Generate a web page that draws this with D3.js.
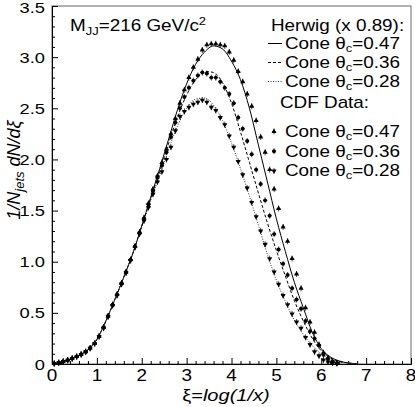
<!DOCTYPE html>
<html>
<head>
<meta charset="utf-8">
<script src="https://cdn.jsdelivr.net/npm/d3@7"></script>
<style>
  body { margin: 0; background: #fff; }
  text { font-family: "Liberation Sans", Arial, sans-serif; fill: #000; }
</style>
</head>
<body>
<svg id="chart" width="415" height="407"></svg>
<script>
// Herwig curves: knots every 0.2 in xi
const curveXi = [0.0, 0.2, 0.4, 0.6, 0.8, 1.0, 1.2, 1.4, 1.6, 1.8, 2.0, 2.2, 2.4, 2.6, 2.8,
  3.0, 3.2, 3.4, 3.6, 3.8, 4.0, 4.2, 4.4, 4.6, 4.8, 5.0, 5.2, 5.4, 5.6, 5.8, 6.0, 6.2, 6.4, 6.6, 6.8];
const herwig47 = [0.0, 0.015, 0.045, 0.085, 0.14, 0.24, 0.42, 0.63, 0.85, 1.08, 1.35, 1.63, 1.91, 2.20, 2.49,
  2.74, 2.93, 3.05, 3.11, 3.08, 2.96, 2.78, 2.50, 2.14, 1.78, 1.42, 1.10, 0.80, 0.55, 0.31, 0.15, 0.07, 0.03, 0.01, 0.0];
const herwig36 = [0.0, 0.015, 0.045, 0.085, 0.14, 0.24, 0.42, 0.63, 0.85, 1.08, 1.35, 1.62, 1.88, 2.16, 2.42,
  2.63, 2.78, 2.86, 2.85, 2.75, 2.55, 2.27, 1.97, 1.67, 1.38, 1.11, 0.86, 0.62, 0.42, 0.25, 0.13, 0.06, 0.025, 0.01, 0.0];
const herwig28 = [0.0, 0.015, 0.045, 0.085, 0.14, 0.24, 0.42, 0.63, 0.85, 1.08, 1.34, 1.60, 1.84, 2.10, 2.33,
  2.50, 2.59, 2.60, 2.53, 2.38, 2.16, 1.91, 1.64, 1.36, 1.07, 0.82, 0.61, 0.43, 0.29, 0.18, 0.10, 0.05, 0.02, 0.01, 0.0];

// CDF data: bin centres
const dataXi = [0.05, 0.15, 0.25, 0.35, 0.45, 0.55, 0.65, 0.75, 0.85, 0.95,
  1.05, 1.15, 1.25, 1.35, 1.45, 1.55, 1.65, 1.75, 1.85, 1.95,
  2.05, 2.15, 2.25, 2.35, 2.45, 2.55, 2.65, 2.75, 2.85, 2.95,
  3.05, 3.15, 3.25, 3.35, 3.45, 3.55, 3.65, 3.75, 3.85, 3.95,
  4.05, 4.15, 4.25, 4.35, 4.45, 4.55, 4.65, 4.75, 4.85, 4.95,
  5.05, 5.15, 5.25, 5.35, 5.45, 5.55, 5.65, 5.75, 5.85, 5.95,
  6.05, 6.15, 6.25, 6.35];
const cdf47 = [0.005, 0.012, 0.025, 0.038, 0.055, 0.072, 0.095, 0.12, 0.155, 0.20,
  0.27, 0.36, 0.47, 0.58, 0.68, 0.79, 0.90, 1.02, 1.15, 1.29,
  1.43, 1.57, 1.71, 1.84, 1.97, 2.10, 2.25, 2.40, 2.55, 2.68,
  2.80, 2.90, 2.98, 3.07, 3.12, 3.13, 3.13, 3.12, 3.11, 3.05,
  2.97, 2.86, 2.76, 2.64, 2.52, 2.38, 2.22, 2.07, 1.90, 1.71,
  1.52, 1.34, 1.20, 1.03, 0.88, 0.74, 0.55, 0.41, 0.31, 0.19,
  0.11, 0.06, 0.03, 0.01];
const cdf36 = [0.005, 0.013, 0.024, 0.037, 0.054, 0.073, 0.094, 0.12, 0.156, 0.20,
  0.27, 0.36, 0.47, 0.58, 0.68, 0.79, 0.90, 1.02, 1.15, 1.28,
  1.42, 1.56, 1.69, 1.82, 1.94, 2.07, 2.22, 2.36, 2.50, 2.61,
  2.70, 2.77, 2.82, 2.85, 2.84, 2.80, 2.80, 2.76, 2.70, 2.64,
  2.55, 2.41, 2.30, 2.18, 2.05, 1.90, 1.76, 1.60, 1.45, 1.27,
  1.12, 0.98, 0.87, 0.74, 0.63, 0.54, 0.42, 0.32, 0.25, 0.18,
  0.09, 0.05, 0.02, 0.01];
const cdf28 = [0.005, 0.012, 0.024, 0.037, 0.054, 0.072, 0.093, 0.12, 0.154, 0.20,
  0.27, 0.35, 0.46, 0.57, 0.67, 0.78, 0.89, 1.01, 1.14, 1.27,
  1.40, 1.53, 1.66, 1.78, 1.88, 2.00, 2.12, 2.28, 2.42, 2.47,
  2.51, 2.54, 2.56, 2.58, 2.56, 2.51, 2.48, 2.41, 2.34, 2.23,
  2.12, 1.98, 1.85, 1.72, 1.58, 1.44, 1.30, 1.17, 1.03, 0.90,
  0.78, 0.67, 0.58, 0.49, 0.41, 0.35, 0.26, 0.19, 0.12, 0.08,
  0.04, 0.02, 0.01, 0.005];

const coneLabels = ['0.47', '0.36', '0.28'];
const xTicks = [0, 1, 2, 3, 4, 5, 6, 7, 8];
const yTicks = [0, 0.5, 1.0, 1.5, 2.0, 2.5, 3.0, 3.5];
const yTickLabels = ['0', '0.5', '1.0', '1.5', '2.0', '2.5', '3.0', '3.5'];

const width = 415, height = 407;
const margin = {top: 6, right: 4, bottom: 43, left: 52};
const SX = 1.18;  // text in the reference is stretched horizontally

const svg = d3.select('#chart');
const x = d3.scaleLinear().domain([0, 8]).range([margin.left, width - margin.right]);
const y = d3.scaleLinear().domain([0, 3.5]).range([height - margin.bottom, margin.top]);

// Stretched text helper.
function stext(parent, px, py, size, anchor) {
  return parent.append('text')
      .attr('transform', `translate(${px},${py}) scale(${SX},1)`)
      .attr('font-size', size)
      .attr('text-anchor', anchor || 'start');
}

// Frame
svg.append('rect')
    .attr('x', x(0)).attr('y', y(3.5))
    .attr('width', x(8) - x(0)).attr('height', y(0) - y(3.5))
    .attr('fill', 'none').attr('stroke', '#666').attr('stroke-width', 1);

// Axes with inward ticks
const xAxis = svg.append('g').attr('transform', `translate(0,${y(0)})`);
xAxis.call(d3.axisBottom(x).tickValues(d3.range(0, 8.001, 0.2)).tickSize(-3).tickFormat(''));
xAxis.call(g => g.selectAll('.tick line').filter(d => Math.abs(d - Math.round(d)) < 1e-6).attr('y2', -6));
xAxis.select('.domain').attr('stroke', '#000');
xAxis.selectAll('.tick line').attr('stroke', '#000');

const yAxis = svg.append('g').attr('transform', `translate(${x(0)},0)`);
yAxis.call(d3.axisLeft(y).tickValues(d3.range(0, 3.5001, 0.1)).tickSize(-3).tickFormat(''));
yAxis.call(g => g.selectAll('.tick line').filter(d => Math.abs(d * 2 - Math.round(d * 2)) < 1e-6).attr('x2', 6));
yAxis.select('.domain').attr('stroke', '#000');
yAxis.selectAll('.tick line').attr('stroke', '#000');

// Tick labels
xTicks.forEach(t => stext(svg, x(t), 381, 16, 'middle').text(t));
yTicks.forEach((t, i) => stext(svg, 45, Math.max(y(t) + 5.5, 13), 15.5, 'end').text(yTickLabels[i]));

// Axis titles
const xt = stext(svg, 226, 401, 17, 'middle');
xt.append('tspan').text('ξ=');
xt.append('tspan').attr('font-style', 'italic').text('log(1/x)');

const yt = svg.append('text')
    .attr('transform', 'translate(20,170) rotate(-90)')
    .attr('font-size', 18).attr('font-style', 'italic').attr('text-anchor', 'middle');
yt.append('tspan').text('1/N');
yt.append('tspan').attr('font-size', 13).attr('dy', 4).text('jets');
yt.append('tspan').attr('dy', -4).text(' dN/dξ');

// Mass annotation
const mt = stext(svg, 70, 31, 16);
mt.append('tspan').text('M');
mt.append('tspan').attr('font-size', 11).attr('dy', 4).text('JJ');
mt.append('tspan').attr('dy', -4).text('=216 GeV/c');
mt.append('tspan').attr('font-size', 11).attr('dy', -6).text('2');

// Herwig curves
const curveStyles = [
  {vals: herwig47, dash: null, color: '#000'},
  {vals: herwig36, dash: '3,2', color: '#000'},
  {vals: herwig28, dash: '1,1.5', color: '#333'},
];
const line = d3.line().x(d => x(d[0])).y(d => y(d[1])).curve(d3.curveMonotoneX);
const plot = svg.append('g');
curveStyles.forEach(c => {
  plot.append('path')
      .datum(curveXi.map((v, i) => [v, c.vals[i]]))
      .attr('d', line)
      .attr('fill', 'none')
      .attr('stroke', c.color)
      .attr('stroke-width', 1)
      .attr('stroke-dasharray', c.dash);
});

// CDF data points
const markerDefs = [
  {vals: cdf47, type: d3.symbolTriangle, size: 11, rot: 0},
  {vals: cdf36, type: d3.symbolCircle, size: 12, rot: 0},
  {vals: cdf28, type: d3.symbolTriangle, size: 11, rot: 180},
];
function drawMarker(g, px, py, m) {
  g.append('line')
      .attr('x1', px).attr('x2', px).attr('y1', py - 3).attr('y2', py + 3)
      .attr('stroke', '#000').attr('stroke-width', 0.7);
  g.append('line')
      .attr('x1', px - 2).attr('x2', px + 2).attr('y1', py).attr('y2', py)
      .attr('stroke', '#000').attr('stroke-width', 0.7);
  g.append('path')
      .attr('d', d3.symbol(m.type, m.size)())
      .attr('transform', `translate(${px},${py}) rotate(${m.rot})`)
      .attr('fill', '#000');
}
markerDefs.forEach(m => {
  const g = svg.append('g');
  dataXi.forEach((xv, i) => drawMarker(g, x(xv), y(m.vals[i]), m));
});

// Legend
const leg = svg.append('g');
stext(leg, 271, 31, 16).text('Herwig (x 0.89):');
curveStyles.forEach((c, i) => {
  const cy = 43.5 + i * 19;
  leg.append('line')
      .attr('x1', 268).attr('x2', 282).attr('y1', cy).attr('y2', cy)
      .attr('stroke', c.color).attr('stroke-width', 1).attr('stroke-dasharray', c.dash);
  const t = stext(leg, 285, cy + 5.5, 16);
  t.append('tspan').text('Cone θ');
  t.append('tspan').attr('font-size', 11).attr('dy', 3).text('c');
  t.append('tspan').attr('dy', -3).text('=' + coneLabels[i]);
});
stext(leg, 280, 108, 16).text('CDF Data:');
markerDefs.forEach((m, i) => {
  const cy = 131.5 + i * 19.7;
  drawMarker(leg, 274, cy, m);
  const t = stext(leg, 285, cy + 5.5, 16);
  t.append('tspan').text('Cone θ');
  t.append('tspan').attr('font-size', 11).attr('dy', 3).text('c');
  t.append('tspan').attr('dy', -3).text('=' + coneLabels[i]);
});
</script>
</body>
</html>
